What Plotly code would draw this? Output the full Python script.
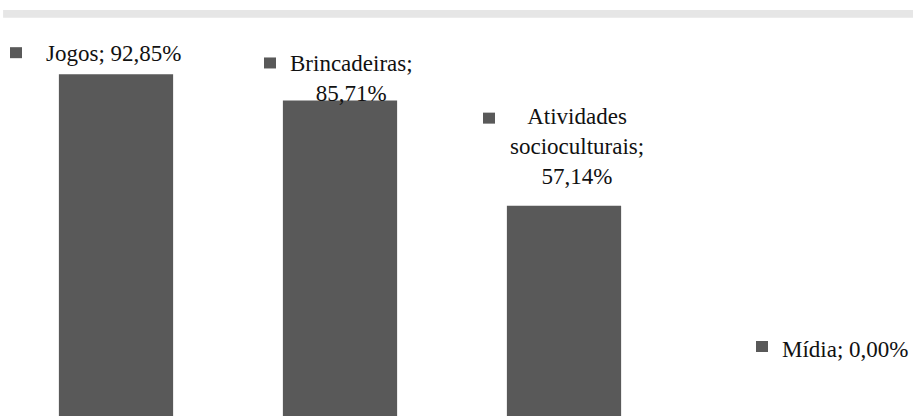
import plotly.graph_objects as go

categories = ["Jogos", "Brincadeiras", "Atividades socioculturais", "Mídia"]
values = [92.85, 85.71, 57.14, 0.00]
value_labels = ["92,85%", "85,71%", "57,14%", "0,00%"]
label_texts = [
    "Jogos; 92,85%",
    "Brincadeiras;<br>85,71%",
    "Atividades<br>socioculturais;<br>57,14%",
    "Mídia; 0,00%",
]

BAR = "#595959"
TXT = "#111111"
FONT = "'Liberation Serif', 'Times New Roman', 'DejaVu Serif', serif"

# label offsets (pixels) relative to bar centre / bar top
text_dx = [-3, 11, 13, 57]
text_dy = [6, -8, 15, 52]
key_dx = [-106, -76, -81, -32]
key_dy = [16, 32, 82, 64]

fig = go.Figure()
fig.add_trace(go.Bar(
    x=categories, y=values, marker=dict(color=BAR, line=dict(width=0)),
    width=0.51, hoverinfo="skip", showlegend=False,
))

annotations = []
shapes = []
for i, c in enumerate(categories):
    annotations.append(dict(
        x=c, y=values[i], xref="x", yref="y", text=label_texts[i],
        showarrow=False, xanchor="center", yanchor="bottom",
        xshift=text_dx[i], yshift=text_dy[i], align="center",
        font=dict(family=FONT, size=23, color=TXT),
    ))
    shapes.append(dict(
        type="rect", xref="x", yref="y", xsizemode="pixel", ysizemode="pixel",
        xanchor=c, yanchor=values[i],
        x0=key_dx[i], x1=key_dx[i] + 12, y0=key_dy[i], y1=key_dy[i] + 11,
        fillcolor=BAR, line=dict(width=0),
    ))

# light grey band at the top
shapes.append(dict(type="rect", xref="paper", yref="paper", x0=-0.001, x1=1.02,
                   y0=1 - 17.7 / 416, y1=1 - 10 / 416, fillcolor="#e6e6e6",
                   line=dict(width=0), layer="below"))

fig.update_layout(
    width=913, height=416,
    margin=dict(l=4, r=13, t=0, b=0),
    paper_bgcolor="white", plot_bgcolor="white",
    bargap=0.49,
    font=dict(family=FONT),
    xaxis=dict(type="category", categoryorder="array", categoryarray=categories,
               range=[-0.5, 3.5], showticklabels=False, showgrid=False,
               zeroline=False, showline=False, ticks=""),
    yaxis=dict(range=[0, 113], showticklabels=False, showgrid=False,
               zeroline=False, showline=False, ticks=""),
    annotations=annotations, shapes=shapes,
)

fig.write_html("out.html")
